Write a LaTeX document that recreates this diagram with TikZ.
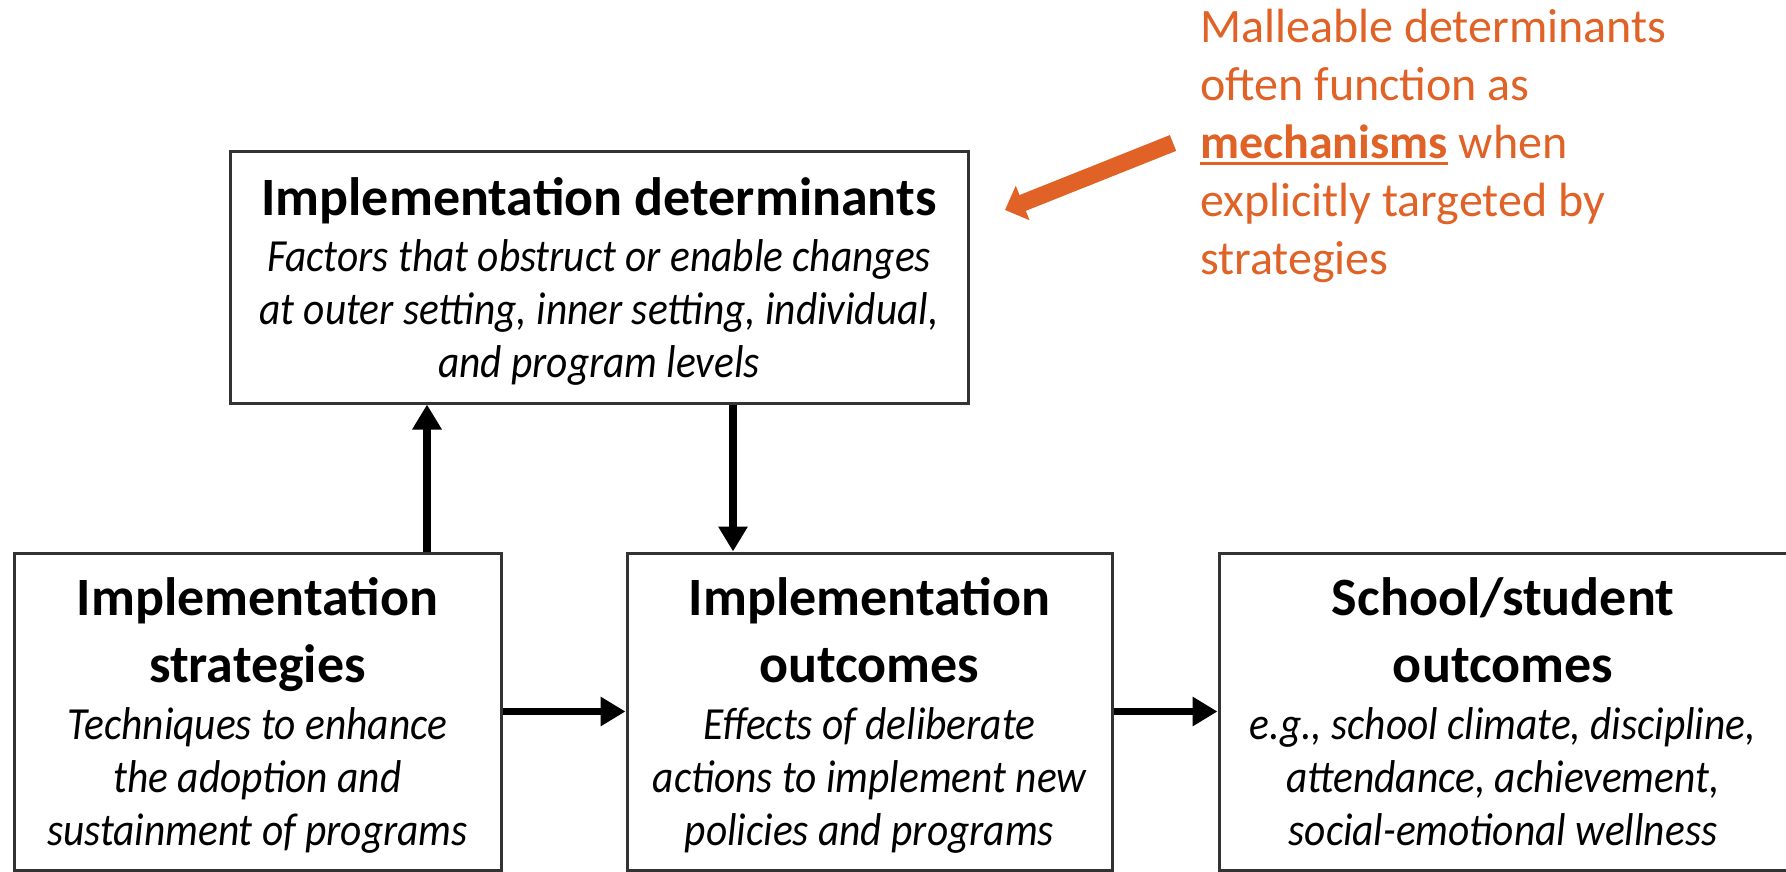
\documentclass[tikz,border=0pt]{standalone}
\usepackage{fontspec}
\setmainfont{Carlito}
\newfontfamily\descfont{Carlito}[FakeStretch=0.9]
\usetikzlibrary{arrows.meta}

\definecolor{noteorange}{RGB}{224,98,38}
\newcommand{\undl}[1]{\setbox0\hbox{#1}\rlap{\rule[-7pt]{\wd0}{3pt}}\box0\relax}

\tikzset{
    box/.style={draw=black!80, line width=3pt, minimum height=317pt, inner sep=0pt},
    title/.style={font={\bfseries\fontsize{54}{67}\selectfont}, align=center, anchor=base, inner sep=0pt},
    desc/.style={font={\descfont\itshape\fontsize{46}{53}\selectfont}, align=center, anchor=base, inner sep=0pt},
    note/.style={font={\fontsize{48}{58}\selectfont}, text=noteorange, align=left, anchor=base west, inner sep=0pt},
    arr/.style={line width=7.5pt, -{Triangle[length=25pt, width=28pt]}},
    notearr/.style={noteorange, line width=17pt, -{Triangle[length=19pt, width=36pt]}},
}

\begin{document}
\begin{tikzpicture}[x=1pt, y=-1pt]
    \path[use as bounding box, fill=white] (0,0) rectangle (1786,872);

    % Boxes: determinants on top, the chain of three below
    \node[box, minimum width=738pt, minimum height=251pt] (detbox) at (599,277.5) {};
    \node[box, minimum width=487pt] (stratbox) at (257.5,711.5) {};
    \node[box, minimum width=485pt] (implbox) at (869.5,711.5) {};
    \node[box, minimum width=570pt] (schoolbox) at (1504,711.5) {};

    % Texts, placed by the baseline of their last line
    \node[title] (dettitle) at (599,215) {Implementation determinants};
    \node[desc] (dettext) at (599,377) {Factors that obstruct or enable changes\\at outer setting, inner setting, individual,\\and program levels};

    \node[title] (strattitle) at (257.5,682) {Implementation\\strategies};
    \node[desc] (strattext) at (257.5,845) {Techniques to enhance\\the adoption and\\sustainment of programs};

    \node[title] (impltitle) at (869.5,682) {Implementation\\outcomes};
    \node[desc] (impltext) at (869.5,845) {Effects of deliberate\\actions to implement new\\policies and programs};

    \node[title] (schooltitle) at (1503,682) {School/student\\outcomes};
    \node[desc] (schooltext) at (1503,845) {e.g., school climate, discipline,\\attendance, achievement,\\social-emotional wellness};

    % Arrows between the boxes
    \coordinate (upfoot) at ([xshift=169.5pt]stratbox.north);
    \coordinate (downtop) at ([xshift=134pt]detbox.south);
    \draw[arr] (upfoot) -- (upfoot |- detbox.south);
    \draw[arr] (downtop) -- (downtop |- implbox.north);
    \draw[arr] (stratbox) -- (implbox);
    \draw[arr] (implbox) -- (schoolbox);

    % Orange note
    \node[note] (note) at (1200,274) {Malleable determinants\\often function as\\\undl{\textbf{mechanisms}} when\\explicitly targeted by\\strategies};
    \coordinate (notetail) at (1173,143);
    \coordinate (notehead) at (1005,210);
    \draw[notearr] (notetail) -- (notehead);

\end{tikzpicture}
\end{document}
